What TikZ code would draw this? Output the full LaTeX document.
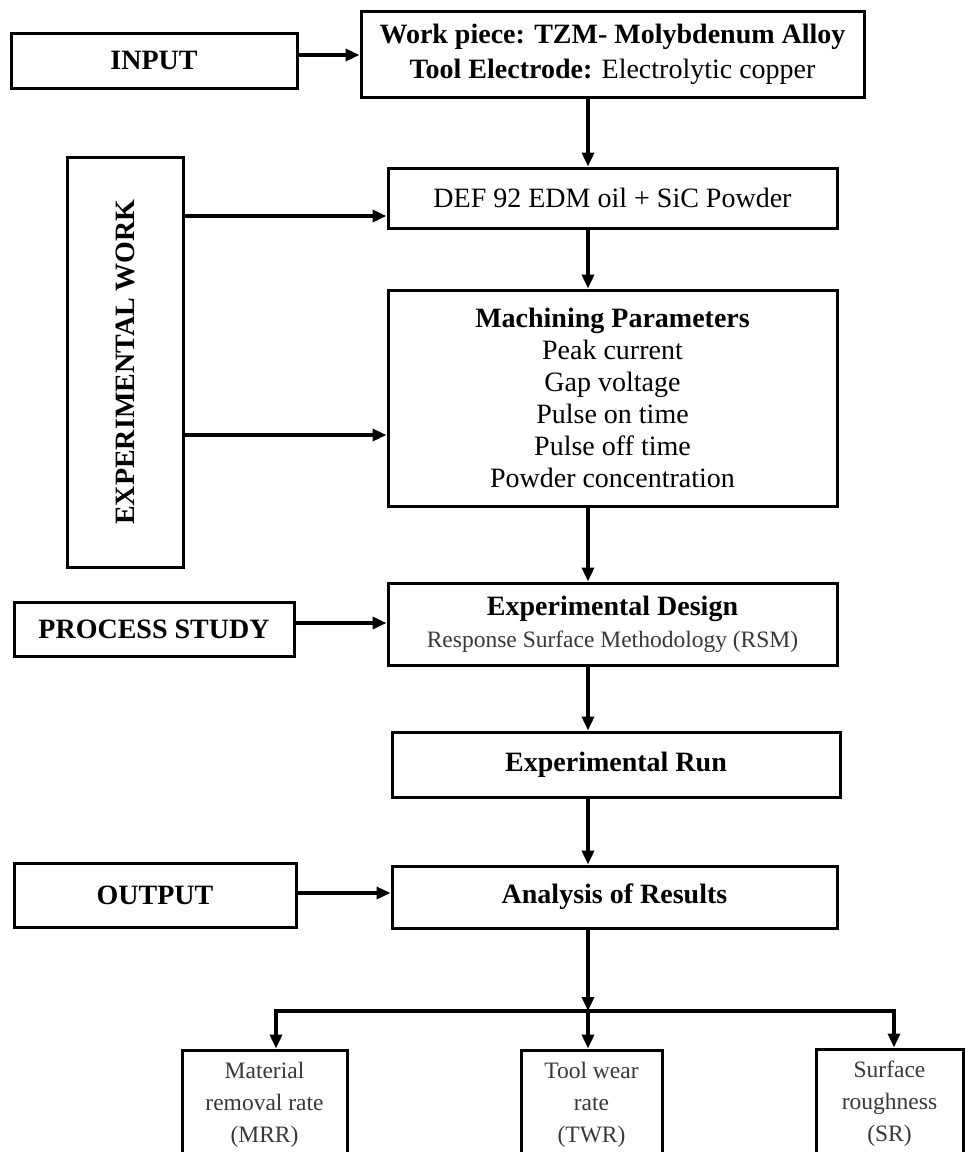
\documentclass[tikz,border=0pt]{standalone}
\usepackage{fontspec}
\setmainfont{Liberation Serif}
\usetikzlibrary{arrows.meta}
\begin{document}
\begin{tikzpicture}[x=1pt,y=-1pt,
  box/.style={draw, line width=3pt, inner sep=0pt, align=center, text=black},
  arr/.style={line width=3.4pt, -{Triangle[length=14pt,width=12pt]}},
  ln/.style={line width=3.4pt},
  txt/.style={font=\fontsize{28}{32}\selectfont},
  lite/.style={font=\fontsize{23.5}{32}\selectfont, text=black!78}
]
\useasboundingbox (0,0) rectangle (966,1152);
\fill[white] (0,0) rectangle (966,1152);

% main column
\node[box, txt, font=\fontsize{28}{35}\selectfont, minimum width=503, minimum height=86] (top) at (612.5,54)
  {\textbf{Work piece: TZM- Molybdenum Alloy}\\\textbf{Tool Electrode:} Electrolytic copper};
\node[box, txt, minimum width=449, minimum height=60] (def) at (612.5,198) {DEF 92 EDM oil + SiC Powder};
\node[box, txt, minimum width=449, minimum height=216] (mach) at (612.5,398)
  {\textbf{Machining Parameters}\\Peak current\\Gap voltage\\Pulse on time\\Pulse off time\\Powder concentration};
\node[box, minimum width=449, minimum height=82] (design) at (612.5,624)
  {\fontsize{28}{35}\selectfont\textbf{Experimental Design}\\[8pt]\fontsize{23.5}{35}\selectfont\color{black!78}Response Surface Methodology (RSM)};
\node[box, txt, minimum width=448, minimum height=65] (run) at (616,764.5) {\textbf{Experimental Run}};
\node[box, txt, minimum width=445, minimum height=62] (analysis) at (614.5,897) {\textbf{Analysis of Results}};

% left column
\node[box, txt, minimum width=286, minimum height=55] (input) at (154,60.5) {\textbf{INPUT}};
\node[box, txt, minimum width=116, minimum height=410] (expw) at (125,362) {\rotatebox{90}{\textbf{EXPERIMENTAL WORK}}};
\node[box, txt, minimum width=280, minimum height=54] (proc) at (154,629) {\textbf{PROCESS STUDY}};
\node[box, txt, minimum width=282, minimum height=64] (output) at (155,895) {\textbf{OUTPUT}};

% results
\node[box, lite, minimum width=165, minimum height=110] (mrr) at (264.5,1105) {Material\\removal rate\\(MRR)};
\node[box, lite, minimum width=141, minimum height=110] (twr) at (591.5,1105) {Tool wear\\rate\\(TWR)};
\node[box, lite, minimum width=147, minimum height=110] (sr) at (889.5,1104) {Surface\\roughness\\(SR)};

% helper coordinates
\coordinate (ax) at (588,0);
\coordinate (yin) at (0,55);
\coordinate (yd) at (0,216);
\coordinate (ym) at (0,435);
\coordinate (yp) at (0,623);
\coordinate (yo) at (0,893);
\coordinate (jn) at (588,1011);
\coordinate (jl) at (276,1011);
\coordinate (jr) at (894,1011);

% connectors
\draw[arr] (input.east |- yin) -- (top.west |- yin);
\draw[arr] (top.south -| ax) -- (def.north -| ax);
\draw[arr] (def.south -| ax) -- (mach.north -| ax);
\draw[arr] (expw.east |- yd) -- (def.west |- yd);
\draw[arr] (expw.east |- ym) -- (mach.west |- ym);
\draw[arr] (mach.south -| ax) -- (design.north -| ax);
\draw[arr] (proc.east |- yp) -- (design.west |- yp);
\draw[arr] (design.south -| ax) -- (run.north -| ax);
\draw[arr] (run.south -| ax) -- (analysis.north -| ax);
\draw[arr] (output.east |- yo) -- (analysis.west |- yo);
\draw[arr] (analysis.south -| ax) -- (jn);
\draw[ln] ([xshift=-1.7pt]jl) -- ([xshift=1.7pt]jr);
\draw[arr] (jl) -- (mrr.north -| jl);
\draw[arr] (jn) -- (twr.north -| jn);
\draw[arr] (jr) -- (sr.north -| jr);
\end{tikzpicture}
\end{document}
